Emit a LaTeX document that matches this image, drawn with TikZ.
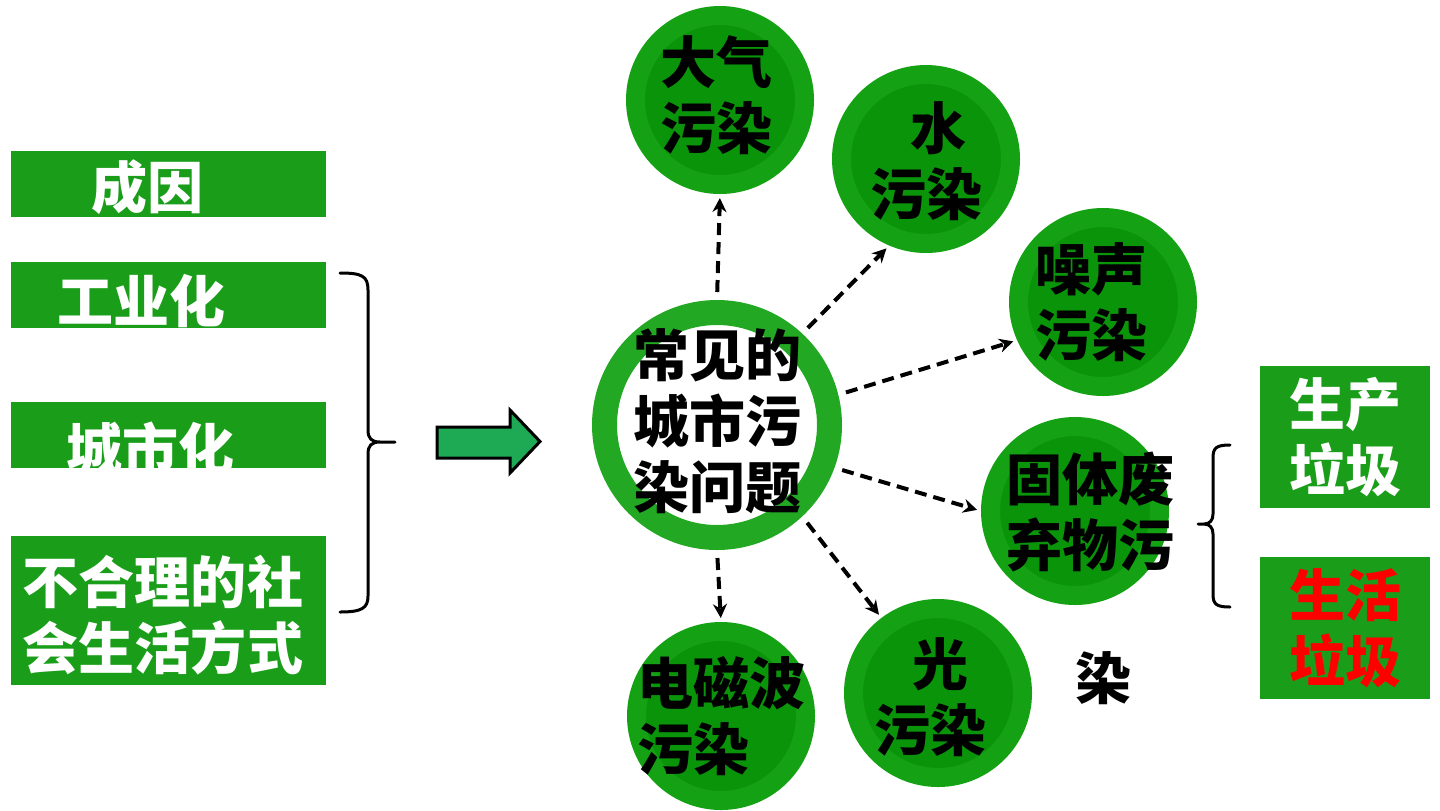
\documentclass[tikz,border=0pt]{standalone}
\usepackage{fontspec}
\setmainfont{Noto Sans CJK SC}
\usetikzlibrary{arrows.meta}
\definecolor{boxgreen}{RGB}{26,158,26}
\definecolor{ringgreen}{RGB}{34,168,34}
\definecolor{diskrim}{RGB}{20,162,20}
\definecolor{diskcore}{RGB}{10,148,10}
\definecolor{arrowgreen}{RGB}{30,170,85}

\begin{document}
\begin{tikzpicture}[x=0.5pt,y=-0.5pt,
  cause/.style={fill=boxgreen,inner sep=0pt,minimum width=157.5pt,anchor=north west},
  waste/.style={fill=boxgreen,inner sep=0pt,minimum width=85pt,minimum height=71pt,
    font=\fontsize{28}{33}\selectfont\bfseries,align=center},
  word/.style={font=\fontsize{28}{33}\selectfont\bfseries,align=center,inner sep=0pt},
  hub/.style={circle,draw=ringgreen,line width=12.5pt,minimum size=112.5pt,inner sep=0pt},
  disk/.style={circle,draw=diskrim,fill=diskcore,line width=9.5pt,minimum size=84.5pt,inner sep=0pt},
  flow/.style={-{Stealth[length=7pt,width=7pt]},line width=2pt,dash pattern=on 6pt off 3.5pt,
    shorten <=4pt,shorten >=2pt},
  curly/.style={line width=1.5pt,line cap=round}]
   \useasboundingbox (0,0) rectangle (1440,810);

   % causes
   \node[cause,minimum height=33pt] (reason) at (11,151) {};
   \node[cause,minimum height=33pt] (industry) at (11,262) {};
   \node[cause,minimum height=33pt] (urban) at (11,402) {};
   \node[cause,minimum height=74.5pt] (lifestyle) at (11,536) {};
   \node[word,text=white] (reason-t) at (147,187) {成因};
   \node[word,text=white] (industry-t) at (141,301) {工业化};
   \node[word,text=white] (urban-t) at (150,449) {城市化};
   \node[word,text=white] (lifestyle-t) at (163,615) {不合理的社\\会生活方式};
   \draw[curly] (340,273) .. controls (362,273) and (368,276) .. (368,290) -- (368,430)
      .. controls (368,438) and (371,442) .. (380,442) -- (395,442)
      (380,442) .. controls (371,442) and (368,446) .. (368,454) -- (368,596)
      .. controls (368,608) and (362,612) .. (340,612);

   % big arrow
   \draw[fill=arrowgreen,line width=1.5pt] (437,427) -- (510,427) -- (510,410) -- (540,441.5)
      -- (510,473) -- (510,458) -- (437,458) -- cycle;

   % pollution types
   \node[hub] (hub) at (717,425) {};
   \node[word] (hub-t) at (717,421) {常见的\\城市污\\染问题};
   \node[disk] (air) at (720,100) {};
   \node[disk] (water) at (926,159) {};
   \node[disk] (noise) at (1103,302) {};
   \node[disk] (solid) at (1075,511) {};
   \node[disk] (emf) at (721,716) {};
   \node[disk] (light) at (938,693) {};
   \node[word] (air-t) at (716,95) {大气\\污染};
   \node[word] (water-t) at (926,161) {\hspace*{12pt}水\\污染};
   \node[word] (noise-t) at (1091,302) {噪声\\污染};
   \node[word] (solid-t) at (1090,512) {固体废\\弃物污};
   \node[word] (solid-end) at (1103,678) {染};
   \node[word,align=left] (emf-t) at (721.5,716) {电磁波\\污染};
   \node[word] (light-t) at (930,697) {\hspace*{10pt}光\\污染};

   \path[flow]
    (hub.90) edge (air.270)
    (hub.47) edge (water.247)
    (hub.14) edge (noise.204)
    (hub.340) edge (solid.180)
    (hub.270) edge (emf.90)
    (hub.313) edge (light.127);

   % waste
   \node[waste,text=white] (prod) at (1345,437) {生产\\垃圾};
   \node[waste,text=red] (life) at (1345,628) {生活\\垃圾};
   \draw[curly] (1230,445) .. controls (1216,445) and (1213,448) .. (1213,458) -- (1213,514)
      .. controls (1213,520) and (1210,524) .. (1204,524) -- (1198,524)
      (1204,524) .. controls (1210,524) and (1213,528) .. (1213,534) -- (1213,594)
      .. controls (1213,604) and (1216,607) .. (1230,607);
\end{tikzpicture}
\end{document}
